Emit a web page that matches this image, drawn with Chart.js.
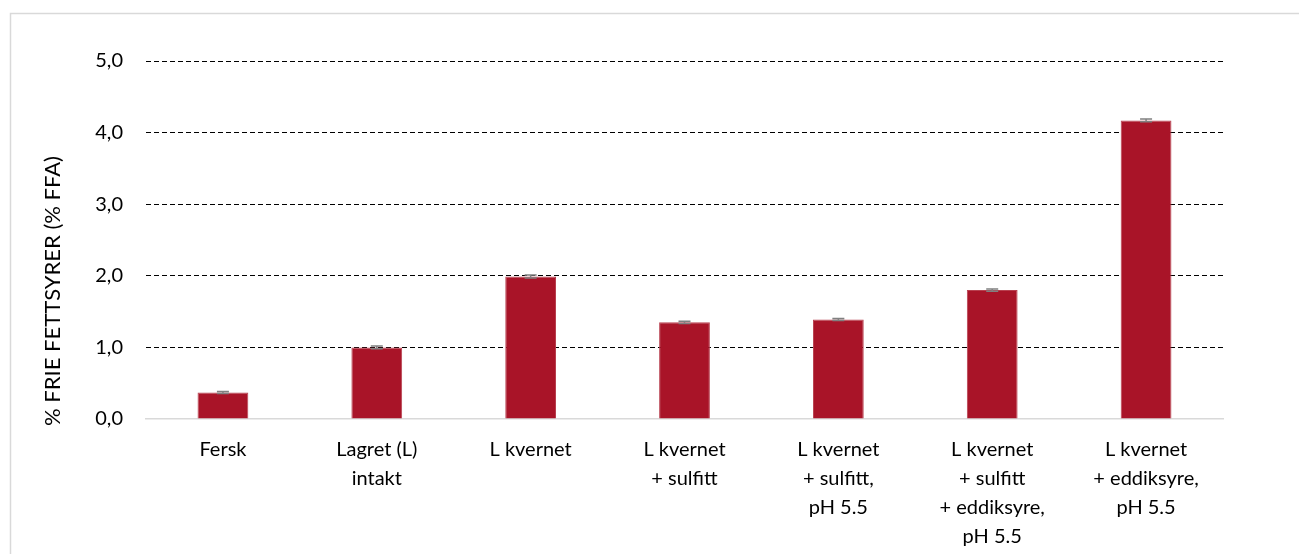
<!doctype html>
<html>
	<head>
		<meta charset="utf-8" />
		<title>Frie fettsyrer</title>
		<script src="https://cdn.jsdelivr.net/npm/chart.js@4.4.1/dist/chart.umd.min.js"></script>
		<style>
			html,
			body {
				margin: 0;
				padding: 0;
				background: #fff;
			}
			#wrap {
				width: 1299px;
				height: 554px;
				position: relative;
			}
		</style>
	</head>
	<body>
		<div id="wrap"><canvas id="chartJSContainer"></canvas></div>
		<script>
			// data
			const categories = [
				["Fersk"],
				["Lagret (L)", "intakt"],
				["L kvernet"],
				["L kvernet", "+ sulfitt"],
				["L kvernet", "+ sulfitt,", "pH 5.5"],
				["L kvernet", "+ sulfitt", "+ eddiksyre,", "pH 5.5"],
				["L kvernet", "+ eddiksyre,", "pH 5.5"],
			];
			const ffaValues = [0.37, 1.0, 1.99, 1.35, 1.39, 1.8, 4.17];
			const ffaErrors = [0.015, 0.02, 0.02, 0.015, 0.015, 0.015, 0.02];
			const yTicks = [0, 1, 2, 3, 4, 5];
			const yTitle = "% FRIE FETTSYRER (% FFA)";

			const fontFamily = "Lato, 'Open Sans', sans-serif";

			// frame, y title and error bars
			const decorations = {
				id: "decorations",
				beforeDraw(chart) {
					const ctx = chart.ctx;
					ctx.save();
					ctx.strokeStyle = "#d9d9d9";
					ctx.lineWidth = 1.5;
					ctx.strokeRect(10.5, 13.5, chart.width + 20, chart.height + 20);
					ctx.restore();
				},
				afterDraw(chart) {
					const ctx = chart.ctx;
					const y = chart.scales.y;
					const meta = chart.getDatasetMeta(0);
					ctx.save();
					ctx.strokeStyle = "#808080";
					ctx.lineWidth = 1.5;
					meta.data.forEach((bar, i) => {
						const top = y.getPixelForValue(ffaValues[i] + ffaErrors[i]);
						const bot = y.getPixelForValue(ffaValues[i] - ffaErrors[i]);
						ctx.beginPath();
						ctx.moveTo(bar.x, top);
						ctx.lineTo(bar.x, bot);
						ctx.moveTo(bar.x - 6, top);
						ctx.lineTo(bar.x + 6, top);
						ctx.moveTo(bar.x - 6, bot);
						ctx.lineTo(bar.x + 6, bot);
						ctx.stroke();
					});

					ctx.fillStyle = "#000";
					ctx.font = "22px " + fontFamily;
					ctx.textAlign = "center";
					ctx.textBaseline = "middle";
					ctx.translate(53, 291);
					ctx.rotate(-Math.PI / 2);
					ctx.fillText(yTitle, 0, 0);
					ctx.restore();
				},
			};

			const ctx = document.getElementById("chartJSContainer").getContext("2d");
			new Chart(ctx, {
				type: "bar",
				data: {
					labels: categories,
					datasets: [
						{
							data: ffaValues,
							backgroundColor: "#a91428",
							borderColor: "#b8404f",
							borderWidth: 1,
							categoryPercentage: 1,
							barPercentage: 0.33,
						},
					],
				},
				options: {
					responsive: true,
					maintainAspectRatio: false,
					animation: false,
					layout: { padding: { left: 0, top: 61, right: 76, bottom: 0 } },
					plugins: {
						legend: { display: false },
						tooltip: { enabled: false },
					},
					scales: {
						x: {
							grid: { display: false },
							border: { display: true, color: "#d9d9d9", width: 1.5 },
							ticks: {
								color: "#000",
								font: { family: fontFamily, size: 20, lineHeight: 1.45 },
								padding: 8,
								maxRotation: 0,
								autoSkip: false,
							},
							afterFit(scale) {
								scale.height = 135;
							},
						},
						y: {
							min: 0,
							max: 5,
							afterBuildTicks(scale) {
								scale.ticks = yTicks.map((v) => ({ value: v }));
							},
							grid: {
								color: (c) => (c.tick && c.tick.value === 0 ? "rgba(0,0,0,0)" : "#000"),
								lineWidth: 1,
								drawTicks: false,
							},
							border: { display: false, dash: [5, 3] },
							ticks: {
								color: "#000",
								font: { family: fontFamily, size: 20 },
								padding: 23,
								callback: (v) => v.toFixed(1).replace(".", ","),
							},
							afterFit(scale) {
								scale.width = 146;
							},
						},
					},
				},
				plugins: [decorations],
			});
		</script>
	</body>
</html>
